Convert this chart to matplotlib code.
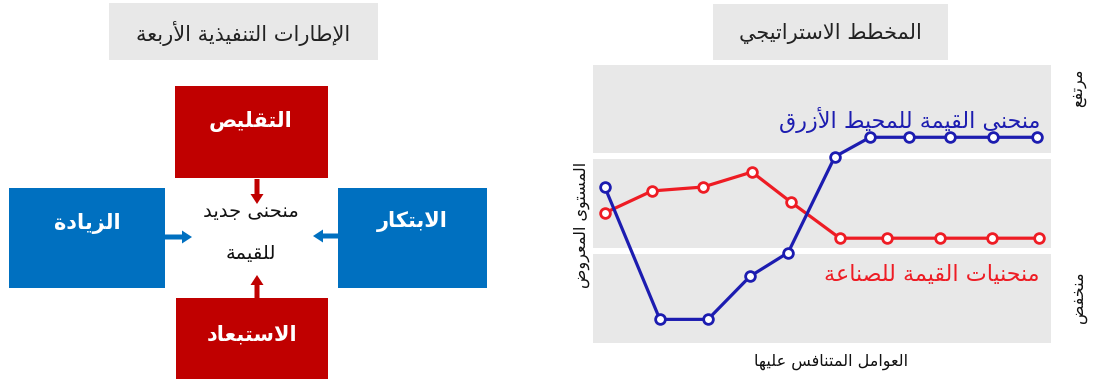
import matplotlib
matplotlib.use("Agg")
import matplotlib.pyplot as plt
from matplotlib.patches import Rectangle, FancyArrow

plt.rcParams['font.family'] = ['DejaVu Sans']

# Data
left_title = "الإطارات التنفيذية الأربعة"
right_title = "المخطط الاستراتيجي"
box_labels = ["التقليص", "الاستبعاد", "الزيادة", "الابتكار"]
center_lines = ["منحنى جديد", "للقيمة"]
blue_label = "منحنى القيمة للمحيط الأزرق"
red_label = "منحنيات القيمة للصناعة"
y_label = "المستوى المعروض"
x_label = "العوامل المتنافس عليها"
high_label = "مرتفع"
low_label = "منخفض"

blue_x = [0.26, 1.46, 2.51, 3.43, 4.26, 5.28, 6.05, 6.9, 7.79, 8.73, 9.69]
blue_y = [5.6, 0.85, 0.85, 2.4, 3.25, 6.7, 7.4, 7.4, 7.4, 7.4, 7.4]
red_x = [0.26, 1.29, 2.40, 3.47, 4.32, 5.39, 6.42, 7.58, 8.71, 9.74]
red_y = [4.68, 5.47, 5.61, 6.15, 5.07, 3.77, 3.77, 3.77, 3.77, 3.77]


# matplotlib has no Arabic shaping: map to presentation forms and reverse
FORMS = {
    'ا': ('ﺍ', 'ﺎ', None, None), 'أ': ('ﺃ', 'ﺄ', None, None),
    'إ': ('ﺇ', 'ﺈ', None, None), 'ب': ('ﺏ', 'ﺐ', 'ﺑ', 'ﺒ'),
    'ة': ('ﺓ', 'ﺔ', None, None), 'ت': ('ﺕ', 'ﺖ', 'ﺗ', 'ﺘ'),
    'ج': ('ﺝ', 'ﺞ', 'ﺟ', 'ﺠ'), 'ح': ('ﺡ', 'ﺢ', 'ﺣ', 'ﺤ'),
    'خ': ('ﺥ', 'ﺦ', 'ﺧ', 'ﺨ'), 'د': ('ﺩ', 'ﺪ', None, None),
    'ذ': ('ﺫ', 'ﺬ', None, None), 'ر': ('ﺭ', 'ﺮ', None, None),
    'ز': ('ﺯ', 'ﺰ', None, None), 'س': ('ﺱ', 'ﺲ', 'ﺳ', 'ﺴ'),
    'ص': ('ﺹ', 'ﺺ', 'ﺻ', 'ﺼ'), 'ض': ('ﺽ', 'ﺾ', 'ﺿ', 'ﻀ'),
    'ط': ('ﻁ', 'ﻂ', 'ﻃ', 'ﻄ'), 'ع': ('ﻉ', 'ﻊ', 'ﻋ', 'ﻌ'),
    'ف': ('ﻑ', 'ﻒ', 'ﻓ', 'ﻔ'), 'ق': ('ﻕ', 'ﻖ', 'ﻗ', 'ﻘ'),
    'ك': ('ﻙ', 'ﻚ', 'ﻛ', 'ﻜ'), 'ل': ('ﻝ', 'ﻞ', 'ﻟ', 'ﻠ'),
    'م': ('ﻡ', 'ﻢ', 'ﻣ', 'ﻤ'), 'ن': ('ﻥ', 'ﻦ', 'ﻧ', 'ﻨ'),
    'ه': ('ﻩ', 'ﻪ', 'ﻫ', 'ﻬ'), 'و': ('ﻭ', 'ﻮ', None, None),
    'ى': ('ﻯ', 'ﻰ', None, None), 'ي': ('ﻱ', 'ﻲ', 'ﻳ', 'ﻴ'),
}
LAMALEF = {'ا': ('ﻻ', 'ﻼ'), 'أ': ('ﻷ', 'ﻸ'), 'إ': ('ﻹ', 'ﻺ')}


def shape(text):
    words = []
    for w in text.split(' '):
        chars = []
        i = 0
        while i < len(w):
            if w[i] == 'ل' and i + 1 < len(w) and w[i + 1] in LAMALEF:
                chars.append(('LA', w[i + 1]))
                i += 2
            else:
                chars.append(('C', w[i]))
                i += 1
        res = []
        for j, (kind, c) in enumerate(chars):
            prev = chars[j - 1] if j > 0 else None
            nxt = chars[j + 1] if j + 1 < len(chars) else None
            prev_joins = (prev is not None and prev[0] == 'C' and prev[1] in FORMS
                          and FORMS[prev[1]][2] is not None)
            if kind == 'LA':
                res.append(LAMALEF[c][1] if prev_joins else LAMALEF[c][0])
                continue
            f = FORMS[c]
            next_ok = nxt is not None and f[2] is not None
            if prev_joins and next_ok:
                res.append(f[3])
            elif prev_joins:
                res.append(f[1])
            elif next_ok:
                res.append(f[2])
            else:
                res.append(f[0])
        words.append(''.join(res))
    return ' '.join(words)[::-1]


RED = '#c00000'
BLUE = '#0070c0'
GRAY = '#e8e8e8'
LINE_BLUE = '#1c1cb0'
LINE_RED = '#ee1c24'

fig = plt.figure(figsize=(10.93, 3.83), dpi=100)
bg = fig.add_axes([0, 0, 1, 1])
bg.set_xlim(0, 1093)
bg.set_ylim(383, 0)
bg.axis('off')

# left panel: title and the four boxes
bg.add_patch(Rectangle((109, 3), 269, 57, color=GRAY, lw=0))
bg.text(243, 33, shape(left_title), fontsize=15, ha='center', va='center', color='#222222')

boxes = [(175, 86, 153, 92, RED), (176, 298, 152, 81, RED),
         (9, 188, 156, 100, BLUE), (338, 188, 149, 100, BLUE)]
text_pos = [(251, 121), (252, 334), (87, 223), (412, 222)]
for (x, y, w, h, c), lab, (tx, ty) in zip(boxes, box_labels, text_pos):
    bg.add_patch(Rectangle((x, y), w, h, color=c, lw=0))
    bg.text(tx, ty, shape(lab), fontsize=15, fontweight='bold', color='white',
            ha='center', va='center')

bg.text(251, 211, shape(center_lines[0]), fontsize=14, ha='center', va='center', color='#111111')
bg.text(251, 254, shape(center_lines[1]), fontsize=14, ha='center', va='center', color='#111111')

arrow_kw = dict(width=5, head_width=13, head_length=10, length_includes_head=True, lw=0)
bg.add_patch(FancyArrow(257, 179, 0, 25, color=RED, **arrow_kw))
bg.add_patch(FancyArrow(257, 299, 0, -24, color=RED, **arrow_kw))
bg.add_patch(FancyArrow(164, 237, 28, 0, color=BLUE, **arrow_kw))
bg.add_patch(FancyArrow(339, 236, -26, 0, color=BLUE, **arrow_kw))

# right panel: strategy canvas
bg.add_patch(Rectangle((713, 4), 235, 56, color=GRAY, lw=0))
bg.text(830, 33, shape(right_title), fontsize=15, ha='center', va='center', color='#222222')

ax = fig.add_axes([593 / 1093, (383 - 343) / 383, 458 / 1093, 278 / 383])
ax.set_xlim(0, 10)
ax.set_ylim(0, 10)
ax.axis('off')
ax.axhspan(6.83, 10, color=GRAY, lw=0, zorder=0)
ax.axhspan(3.42, 6.62, color=GRAY, lw=0, zorder=0)
ax.axhspan(0, 3.2, color=GRAY, lw=0, zorder=0)

ax.plot(red_x, red_y, color=LINE_RED, lw=2.3, marker='o', ms=7, mfc='white',
        mec=LINE_RED, mew=2.0, zorder=3, clip_on=False)
ax.plot(blue_x, blue_y, color=LINE_BLUE, lw=2.3, marker='o', ms=7, mfc='white',
        mec=LINE_BLUE, mew=2.0, zorder=4, clip_on=False)

# labels on top of the canvas (pixel coordinates of bg)
px = bg.transData
fig.text(1040, 128, shape(blue_label), fontsize=16, color=LINE_BLUE, ha='right', va='baseline', transform=px)
fig.text(1040, 281, shape(red_label), fontsize=16, color=LINE_RED, ha='right', va='baseline', transform=px)
fig.text(582, 225, shape(y_label), fontsize=11.5, rotation=90, ha='center', va='center', color='#111111', transform=px)
fig.text(831, 362, shape(x_label), fontsize=11.5, ha='center', va='center', color='#111111', transform=px)
fig.text(1079, 88, shape(high_label), fontsize=11.5, rotation=90, ha='center', va='center', color='#111111', transform=px)
fig.text(1079, 297, shape(low_label), fontsize=11.5, rotation=90, ha='center', va='center', color='#111111', transform=px)

fig.savefig('out.png', dpi=100)
